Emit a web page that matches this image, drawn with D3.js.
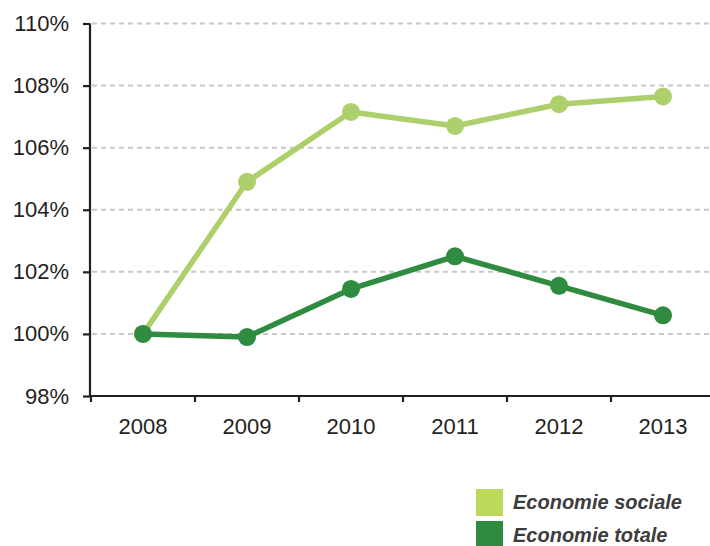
<!DOCTYPE html>
<html><head><meta charset="utf-8">
<script src="https://cdn.jsdelivr.net/npm/d3@7"></script>
<style>body{margin:0;background:#fff}svg{display:block}</style>
</head><body>
<svg id="c" width="710" height="546"></svg>
<script>
const years = ["2008","2009","2010","2011","2012","2013"];
const sociale = [100, 104.9, 107.15, 106.7, 107.4, 107.65];
const totale = [100, 99.9, 101.45, 102.5, 101.55, 100.6];
const yTicks = [98, 100, 102, 104, 106, 108, 110];
const seriesNames = ["Economie sociale", "Economie totale"];
const lineColors = ["#aed06c", "#2e8b3f"];
const legendColors = ["#bcd95b", "#2e8b3f"];

const svg = d3.select("#c");
const x = d3.scaleBand().domain(years).range([91, 715]);
const y = d3.scaleLinear().domain([98, 110]).range([396, 23.5]);
const font = "'Liberation Sans', Arial, sans-serif";

// gridlines
svg.append("g").selectAll("line").data(yTicks.filter(d => d > 98)).join("line")
  .attr("x1", 92).attr("x2", 710)
  .attr("y1", d => y(d)).attr("y2", d => y(d))
  .attr("stroke", "#c8c8c8").attr("stroke-width", 2).attr("stroke-dasharray", "5,4");

// y axis
const yAxis = svg.append("g").attr("transform", "translate(90,0)")
  .call(d3.axisLeft(y).tickValues(yTicks).tickFormat(d => d + "%").tickSize(7).tickPadding(14));
yAxis.select(".domain").attr("stroke", "#231f20").attr("stroke-width", 2.2).attr("d", `M0,${y(110)}V${y(98)}`);
yAxis.selectAll(".tick line").attr("stroke", "#231f20").attr("stroke-width", 2.2);
yAxis.selectAll(".tick text").attr("font-family", font).attr("font-size", 22).attr("fill", "#231f20");

// x axis
const xAxis = svg.append("g").attr("transform", "translate(0,396)")
  .call(d3.axisBottom(x).tickSize(0).tickPadding(22));
xAxis.select(".domain").attr("stroke", "#231f20").attr("stroke-width", 2.2).attr("d", "M89,0H715");
xAxis.selectAll(".tick text").attr("font-family", font).attr("font-size", 22).attr("fill", "#231f20");
svg.append("g").selectAll("line").data(years).join("line")
  .attr("x1", d => x(d)).attr("x2", d => x(d))
  .attr("y1", 396).attr("y2", 402)
  .attr("stroke", "#231f20").attr("stroke-width", 2.2);

const cx = d => x(d) + x.bandwidth() / 2;
const line = d3.line().x((d, i) => cx(years[i])).y(d => y(d));

[sociale, totale].forEach((vals, k) => {
  svg.append("path").datum(vals).attr("d", line)
    .attr("fill", "none").attr("stroke", lineColors[k]).attr("stroke-width", 5.5)
    .attr("stroke-linejoin", "round");
  svg.append("g").selectAll("circle").data(vals).join("circle")
    .attr("cx", (d, i) => cx(years[i])).attr("cy", d => y(d)).attr("r", 9)
    .attr("fill", lineColors[k]);
});

// legend
const lg = svg.append("g");
seriesNames.forEach((n, k) => {
  lg.append("rect").attr("x", 476).attr("y", 489 + k * 32).attr("width", 27).attr("height", 27)
    .attr("fill", legendColors[k]);
  lg.append("text").attr("x", 513).attr("y", 509 + k * 33)
    .attr("font-family", font).attr("font-size", 20).attr("font-style", "italic").attr("font-weight", "bold")
    .attr("fill", "#3d3d3d").text(n);
});
</script>
</body></html>
